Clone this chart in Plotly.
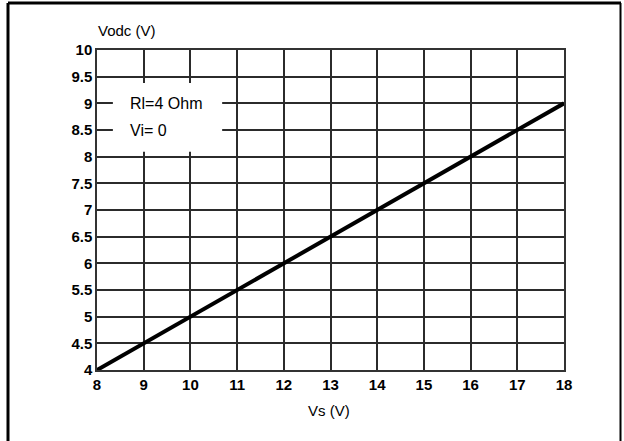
import plotly.graph_objects as go

vs = [8, 9, 10, 11, 12, 13, 14, 15, 16, 17, 18]
vodc = [4, 4.5, 5, 5.5, 6, 6.5, 7, 7.5, 8, 8.5, 9]
x_ticks = [8, 9, 10, 11, 12, 13, 14, 15, 16, 17, 18]
y_ticks = [4, 4.5, 5, 5.5, 6, 6.5, 7, 7.5, 8, 8.5, 9, 9.5, 10]
y_labels = ["4", "4.5", "5", "5.5", "6", "6.5", "7", "7.5", "8", "8.5", "9", "9.5", "10"]
legend_lines = ["Rl=4 Ohm", "Vi= 0"]

FONT = "Liberation Sans"
W, H = 624, 441
L, R, T, B = 97, 60, 50, 71
pw, ph = W - L - R, H - T - B

def px(x):
    return (x - L) / pw

def py(y):
    return 1 - (y - T) / ph

fig = go.Figure()
fig.add_trace(go.Scatter(x=vs, y=vodc, mode="lines",
                         line=dict(color="black", width=4), showlegend=False))

axis_common = dict(showgrid=True, gridcolor="#2b2b2b", gridwidth=1.5,
                   showline=True, linecolor="#333", linewidth=1.5, mirror=True,
                   ticks="", zeroline=False,
                   tickfont=dict(family=FONT, size=15, color="black", weight="bold"))

fig.update_layout(
    width=W, height=H,
    margin=dict(l=L, r=R, t=T, b=B),
    paper_bgcolor="white", plot_bgcolor="white",
    xaxis=dict(range=[8, 18], tickvals=x_ticks, ticktext=[str(v) for v in x_ticks], **axis_common),
    yaxis=dict(range=[4, 10], tickvals=y_ticks, ticktext=y_labels, **axis_common),
)

# white box behind the legend text (covers gridlines)
fig.add_shape(type="rect", xref="x", yref="y", x0=8.34, x1=10.68, y0=8.09, y1=9.38,
              fillcolor="white", line=dict(width=0), layer="between")

fig.add_annotation(text=legend_lines[0], xref="x", yref="y", x=8.66, y=9, showarrow=False,
                   xanchor="left", yanchor="middle",
                   font=dict(family=FONT, size=16, color="black"))
fig.add_annotation(text=legend_lines[1], xref="x", yref="y", x=8.66, y=8.5, showarrow=False,
                   xanchor="left", yanchor="middle",
                   font=dict(family=FONT, size=16, color="black"))

# axis titles
fig.add_annotation(text="Vodc (V)", xref="paper", yref="paper", x=px(96), y=py(30),
                   showarrow=False, xanchor="left", yanchor="middle",
                   font=dict(family=FONT, size=15, color="black"))
fig.add_annotation(text="Vs (V)", xref="paper", yref="paper", x=px(329), y=py(410),
                   showarrow=False, xanchor="center", yanchor="middle",
                   font=dict(family=FONT, size=15, color="black"))

# outer frame
frame = dict(color="black", width=3)
fig.add_shape(type="line", xref="paper", yref="paper", x0=px(8), x1=px(8), y0=py(3), y1=py(441), line=frame)
fig.add_shape(type="line", xref="paper", yref="paper", x0=px(8), x1=px(621), y0=py(3), y1=py(3), line=frame)
fig.add_shape(type="line", xref="paper", yref="paper", x0=px(620.5), x1=px(620.5), y0=py(3), y1=py(441),
              line=dict(color="black", width=2))

fig.write_html("out.html", config={"displayModeBar": False})

# remove default browser body margin so the figure sits at the page origin
with open("out.html", "r", encoding="utf-8") as f:
    html = f.read()
html = html.replace("<head>", "<head><style>html,body{margin:0;padding:0;overflow:hidden}</style>", 1)
with open("out.html", "w", encoding="utf-8") as f:
    f.write(html)
